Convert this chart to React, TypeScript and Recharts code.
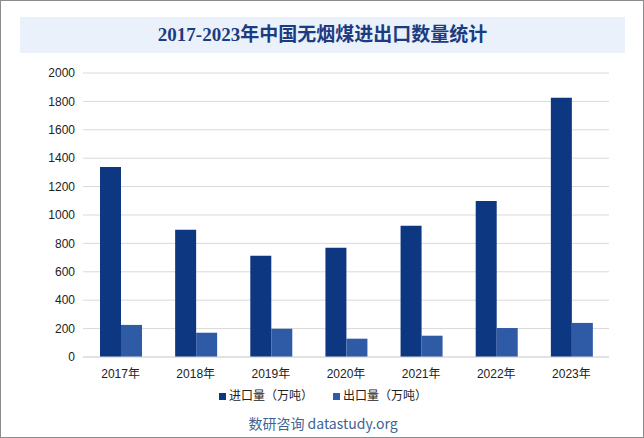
import React from 'react';
import { BarChart, Bar, XAxis, YAxis, CartesianGrid } from 'recharts';

const years = ['2017年', '2018年', '2019年', '2020年', '2021年', '2022年', '2023年'];
const importVol = [1338, 896, 713, 770, 925, 1099, 1825];
const exportVol = [226, 171, 199, 129, 150, 204, 240];
const yTicks = [0, 200, 400, 600, 800, 1000, 1200, 1400, 1600, 1800, 2000];
const seriesNames = ['进口量（万吨）', '出口量（万吨）'];
const seriesColors = ['#0E3782', '#2F5AA5'];

const data = years.map((y, i) => ({ year: y, imp: importVol[i], exp: exportVol[i] }));

const font = '"Liberation Sans", Arial, "Noto Sans CJK SC", sans-serif';

export default function App() {
  return (
    <div
      style={{
        position: 'absolute',
        left: 0,
        top: 0,
        width: 644,
        height: 438,
        boxSizing: 'border-box',
        border: '1px solid #8c8c8c',
        background: '#fff',
        fontFamily: font,
      }}
    >
      <div
        style={{
          position: 'absolute',
          left: 19,
          top: 16,
          width: 605,
          height: 36,
          background: '#EAF1FB',
          textAlign: 'center',
          lineHeight: '36px',
          fontSize: 19,
          fontWeight: 'bold',
          color: '#1B3C82',
          fontFamily: '"Liberation Serif", "Noto Sans CJK SC", serif',
        }}
      >
        2017-2023年中国无烟煤进出口数量统计
      </div>
      <div style={{ position: 'absolute', left: -1, top: -1 }}>
        <BarChart
          width={644}
          height={438}
          data={data}
          margin={{ top: 73, right: 35, bottom: 51, left: 0 }}
          barGap={0}
          barSize={21}
        >
          <CartesianGrid vertical={false} stroke="#D9D9D9" />
          <XAxis
            dataKey="year"
            height={30}
            axisLine={{ stroke: '#D9D9D9' }}
            tickLine={false}
            tickMargin={6}
            tick={{ fill: '#222', fontSize: 12, fontFamily: font }}
            interval={0}
          />
          <YAxis
            width={83}
            domain={[0, 2000]}
            ticks={yTicks}
            axisLine={false}
            tickLine={false}
            tick={{ fill: '#222', fontSize: 12, fontFamily: font }}
          />
          <Bar dataKey="imp" name={seriesNames[0]} fill={seriesColors[0]} isAnimationActive={false} />
          <Bar dataKey="exp" name={seriesNames[1]} fill={seriesColors[1]} isAnimationActive={false} />
        </BarChart>
      </div>
      <div
        style={{
          position: 'absolute',
          left: 0,
          top: 387,
          width: 644,
          display: 'flex',
          justifyContent: 'center',
          fontSize: 12,
          color: '#222',
          fontFamily: font,
          lineHeight: '16px',
        }}
      >
        {seriesNames.map((n, i) => (
          <div key={n} style={{ display: 'flex', alignItems: 'center', marginLeft: i ? 20 : 0 }}>
            <span style={{ width: 7, height: 7, background: seriesColors[i], marginRight: 3, display: 'inline-block' }} />
            <span>{n}</span>
          </div>
        ))}
      </div>
      <div
        style={{
          position: 'absolute',
          left: 0,
          top: 413,
          width: 644,
          textAlign: 'center',
          fontSize: 14,
          color: '#3D6494',
          lineHeight: '18px',
          fontFamily: '"Noto Sans CJK SC", "Liberation Sans", sans-serif',
        }}
      >
        数研咨询 datastudy.org
      </div>
    </div>
  );
}
